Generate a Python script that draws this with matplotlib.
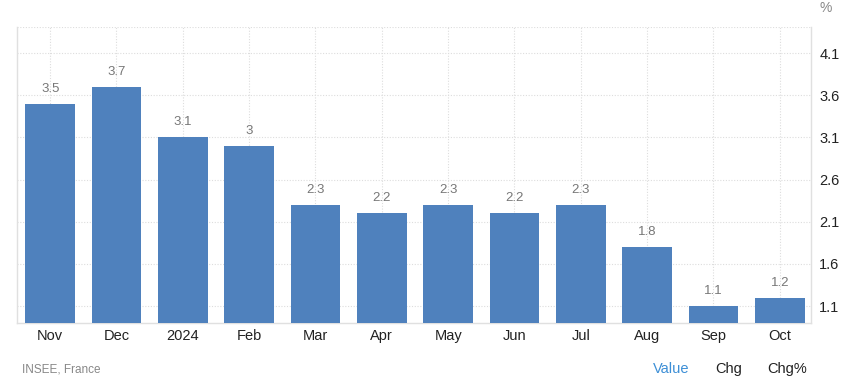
import matplotlib
matplotlib.use("Agg")
import matplotlib.pyplot as plt

categories = ["Nov", "Dec", "2024", "Feb", "Mar", "Apr", "May", "Jun", "Jul", "Aug", "Sep", "Oct"]
values = [3.5, 3.7, 3.1, 3.0, 2.3, 2.2, 2.3, 2.2, 2.3, 1.8, 1.1, 1.2]
value_labels = ["3.5", "3.7", "3.1", "3", "2.3", "2.2", "2.3", "2.2", "2.3", "1.8", "1.1", "1.2"]
yticks = [1.1, 1.6, 2.1, 2.6, 3.1, 3.6, 4.1]
ytick_labels = ["1.1", "1.6", "2.1", "2.6", "3.1", "3.6", "4.1"]

plt.rcParams['font.family'] = ['Liberation Sans', 'DejaVu Sans']

fig = plt.figure(figsize=(8.43, 3.87), dpi=100)
ax = fig.add_axes([17/843, 64/387, (811-17)/843, (323-27)/387])

x = list(range(len(categories)))
bars = ax.bar(x, values, width=0.75, color="#4f81bd", zorder=3)
for xi, v, lab in zip(x, values, value_labels):
    ax.annotate(lab, (xi, v), xytext=(0, 6.5), textcoords="offset points",
                ha="center", va="bottom", fontsize=9.5, color="#777777")

ax.set_xlim(-0.5, 11.47)
ax.set_ylim(0.9, 4.41)
ax.set_xticks(x)
ax.set_xticklabels(categories, fontsize=10.5, color="#222222")
ax.set_yticks(yticks)
ax.set_yticklabels(ytick_labels, fontsize=10.5, color="#222222")
ax.yaxis.tick_right()
ax.tick_params(axis="both", length=0)
ax.tick_params(axis="x", pad=4)
ax.tick_params(axis="y", pad=6)

ax.grid(True, color="#dddddd", linestyle=(0, (1, 1.5)), linewidth=0.8, zorder=0)
ax.axhline(4.41, color="#dddddd", linestyle=(0, (1, 1.5)), linewidth=0.8)
for s in ["top"]:
    ax.spines[s].set_visible(False)
for s in ["left", "right", "bottom"]:
    ax.spines[s].set_color("#e0e0e0")
    ax.spines[s].set_linewidth(1.0)

fig.text(826/843, 1 - 8/387, "%", fontsize=10, color="#888888", ha="center", va="center")
fig.text(22/843, 1 - 369/387, "INSEE, France", fontsize=8.5, color="#888888", ha="left", va="center")
fig.text(671/843, 1 - 369/387, "Value", fontsize=10.5, color="#3d8fd6", ha="center", va="center")
fig.text(729/843, 1 - 369/387, "Chg", fontsize=10.5, color="#222222", ha="center", va="center")
fig.text(787/843, 1 - 369/387, "Chg%", fontsize=10.5, color="#222222", ha="center", va="center")

fig.savefig("out.png", dpi=100)
